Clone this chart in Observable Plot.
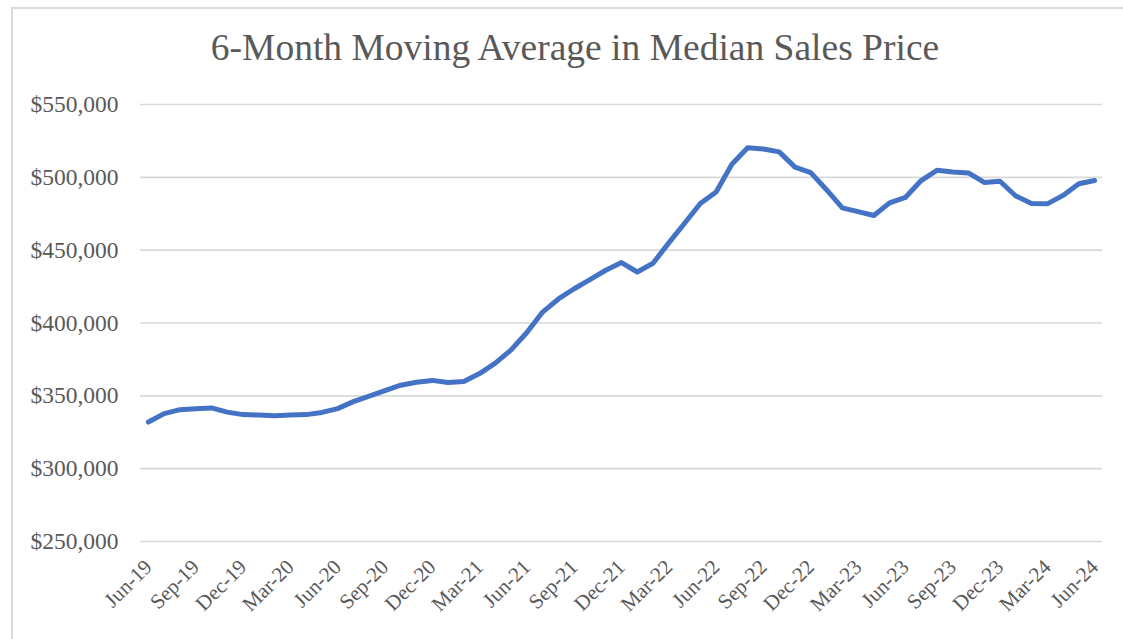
<!DOCTYPE html>
<html>
<head>
<meta charset="utf-8">
<script src="https://cdn.jsdelivr.net/npm/d3@7"></script>
<script src="https://cdn.jsdelivr.net/npm/@observablehq/plot@0.6"></script>
<style>
  html, body { margin: 0; padding: 0; background: #fff; width: 1123px; height: 639px; overflow: hidden; }
  #frame { position: absolute; left: 11px; top: 7px; width: 1200px; height: 700px;
           border-left: 2px solid #d9d9d9; border-top: 2px solid #d9d9d9; }
  #title { position: absolute; left: 0; top: 26px; width: 1150px; text-align: center;
           font-family: "Liberation Serif", "Times New Roman", serif; font-size: 37.5px; color: #595959; line-height: 1.15; }
  #chart { position: absolute; left: 0; top: 0; }
</style>
</head>
<body>
<div id="frame"></div>
<div id="chart"></div>
<div id="title">6-Month Moving Average in Median Sales Price</div>
<script>
const months = [
  "Jun-19","Jul-19","Aug-19","Sep-19","Oct-19","Nov-19","Dec-19",
  "Jan-20","Feb-20","Mar-20","Apr-20","May-20","Jun-20","Jul-20","Aug-20","Sep-20","Oct-20","Nov-20","Dec-20",
  "Jan-21","Feb-21","Mar-21","Apr-21","May-21","Jun-21","Jul-21","Aug-21","Sep-21","Oct-21","Nov-21","Dec-21",
  "Jan-22","Feb-22","Mar-22","Apr-22","May-22","Jun-22","Jul-22","Aug-22","Sep-22","Oct-22","Nov-22","Dec-22",
  "Jan-23","Feb-23","Mar-23","Apr-23","May-23","Jun-23","Jul-23","Aug-23","Sep-23","Oct-23","Nov-23","Dec-23",
  "Jan-24","Feb-24","Mar-24","Apr-24","May-24","Jun-24"
];
const prices = [
  332000, 337800, 340500, 341200, 341700, 338800, 337100,
  336800, 336400, 336800, 337100, 338600, 341200, 346000, 349800, 353600, 357300, 359300, 360600,
  359200, 359900, 365300, 372500, 381500, 393500, 407500, 416500, 423500, 429800, 436200, 441500,
  435000, 441000, 455000, 468500, 482000, 490000, 509000, 520300, 519500, 517500, 507000, 503200,
  491500, 479000, 476500, 473800, 482500, 486200, 497800, 504800, 503600, 503000, 496500, 497300,
  487200, 482000, 481800, 487600, 495600, 497800
];
const xTickLabels = ["Jun-19","Sep-19","Dec-19","Mar-20","Jun-20","Sep-20","Dec-20","Mar-21","Jun-21","Sep-21","Dec-21",
  "Mar-22","Jun-22","Sep-22","Dec-22","Mar-23","Jun-23","Sep-23","Dec-23","Mar-24","Jun-24"];
const yTicks = [250000, 300000, 350000, 400000, 450000, 500000, 550000];

const data = months.map((m, i) => ({month: m, price: prices[i]}));

const chart = Plot.plot({
  width: 1123,
  height: 639,
  marginTop: 104,
  marginBottom: 98,
  marginLeft: 140,
  marginRight: 21,
  style: {fontFamily: "'Liberation Serif', 'Times New Roman', serif", color: "#595959", background: "transparent"},
  x: {type: "point", domain: months, padding: 0.5},
  y: {domain: [250000, 550000]},
  marks: [
    Plot.ruleY(yTicks, {stroke: "#d9d9d9", strokeWidth: 1.6}),
    Plot.axisY({ticks: yTicks, tickFormat: d => "$" + d3.format(",")(d), tickSize: 0, tickPadding: 22, fontSize: 23.5, fill: "#595959", label: null}),
    Plot.axisX({ticks: xTickLabels, tickSize: 0, tickPadding: 22, tickRotate: -45, fontSize: 21, fill: "#595959", label: null}),
    Plot.line(data, {x: "month", y: "price", stroke: "#4472c4", strokeWidth: 5, strokeLinejoin: "round", strokeLinecap: "round"})
  ]
});
document.getElementById("chart").appendChild(chart);
</script>
</body>
</html>
